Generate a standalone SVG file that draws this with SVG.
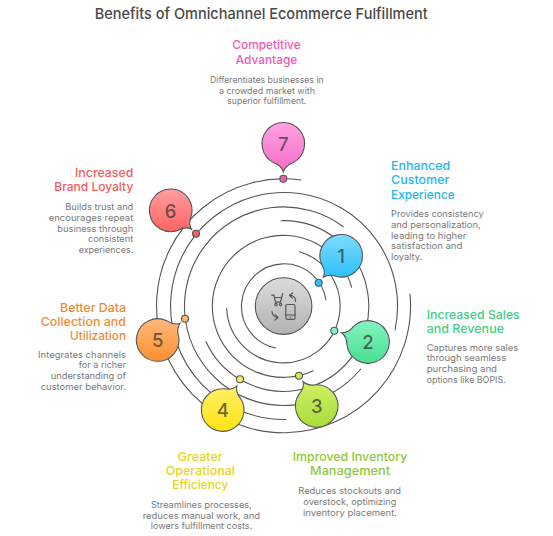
<svg xmlns="http://www.w3.org/2000/svg" width="553" height="536" viewBox="0 0 553 536">
<style>
text{font-family:"Inter","Noto Sans","Liberation Sans",sans-serif}
.t{font-size:15px;font-weight:500;fill:#4a4a4a}
.h{font-size:12.2px;font-weight:500}
.b{font-size:8.8px;font-weight:400;fill:#7a7a7a}
.n{font-size:18.5px;font-weight:500;fill:#333;fill-opacity:.72;text-anchor:middle}
.r{fill:none;stroke:#555;stroke-width:1.1;stroke-linecap:round}
.s{stroke:#555;stroke-width:1.1}
.i{fill:none;stroke:#555;stroke-width:1.2;stroke-linecap:round;stroke-linejoin:round}
</style>
<defs>
<linearGradient id="g0" x1="0" y1="0" x2="0" y2="1"><stop offset="0" stop-color="#dcdcdc"/><stop offset="1" stop-color="#b2b2b2"/></linearGradient>
<linearGradient id="g1" x1="0" y1="0" x2="0" y2="1"><stop offset="0" stop-color="#7fdcff"/><stop offset="1" stop-color="#2cc0fb"/></linearGradient>
<linearGradient id="g2" x1="0" y1="0" x2="0" y2="1"><stop offset="0" stop-color="#86f3c2"/><stop offset="1" stop-color="#46df90"/></linearGradient>
<linearGradient id="g3" x1="0" y1="0" x2="0" y2="1"><stop offset="0" stop-color="#d0f163"/><stop offset="1" stop-color="#a9dc3c"/></linearGradient>
<linearGradient id="g4" x1="0" y1="0" x2="0" y2="1"><stop offset="0" stop-color="#fff068"/><stop offset="1" stop-color="#ffe414"/></linearGradient>
<linearGradient id="g5" x1="0" y1="0" x2="0" y2="1"><stop offset="0" stop-color="#ffb97c"/><stop offset="1" stop-color="#fb9030"/></linearGradient>
<linearGradient id="g6" x1="0" y1="0" x2="0" y2="1"><stop offset="0" stop-color="#ff9e9e"/><stop offset="1" stop-color="#ff6464"/></linearGradient>
<linearGradient id="g7" x1="0" y1="0" x2="0" y2="1"><stop offset="0" stop-color="#ffa3e2"/><stop offset="1" stop-color="#f56cc8"/></linearGradient>
</defs>
<text class="t" x="94.7" y="18.5" textLength="333" lengthAdjust="spacingAndGlyphs">Benefits of Omnichannel Ecommerce Fulfillment</text>
<g id="connectors">
<path class="r" d="M326,300A42.5,42.5 0 1 0 275.7,348"/>
<path class="r" d="M299.3,251.7A56.7,56.7 0 1 1 226.7,308.3"/>
<path class="r" d="M351.7,287.3A71,71 0 1 0 313.3,370.7"/>
<path class="r" d="M281,220.7A85.3,85.3 0 1 1 206,341.7"/>
<path class="r" d="M343.3,226.7A99.3,99.3 0 1 0 360.7,369"/>
<path class="r" d="M395,330A113.5,113.5 0 1 0 286,419.5"/>
<path class="r" d="M301,180A127,127 0 1 0 410,294"/>
</g>
<g id="hub">
<circle cx="283.6" cy="306.1" r="28.3" fill="url(#g0)" class="s"/>
<path class="i" d="M271.7,295.2h2.2l1.6,7h5l2.2-8.6M274.3,297.5h7.6"/>
<circle class="i" cx="276" cy="304.6" r="1.2"/><circle class="i" cx="280.6" cy="304.6" r="1.2"/>
<rect class="i" x="285.8" y="304.5" width="9.2" height="14.8" rx="1.5"/>
<path class="i" d="M285.8,315h9.2"/><circle cx="290.4" cy="317.2" r=".7" fill="#555"/>
<path class="i" d="M295.6,301.5c0-3.5-2-6-6-6.500M292.500,293l-3,2.500l2.800,2.600"/>
<path class="i" d="M272,311.500c.2,3.300,2.300,5.500,5.800,6M275,320l3-2.500l-2.800-2.600"/>
</g>
<g id="node1">
<circle class="s" cx="318.7" cy="282.7" r="3.5" fill="#2cc0fb"/>
<path class="s" fill="url(#g1)" d="M321.64,264.2A21.3,21.3 0 1 1 336.5,276.56Q328.99,273.59 323.3,277.3Q325.92,271.03 321.64,264.2Z"/>
<text class="n" x="341.2" y="263">1</text>
<text class="h" fill="#29b6e8" x="391" y="170" textLength="59.300" lengthAdjust="spacingAndGlyphs">Enhanced</text>
<text class="h" fill="#29b6e8" x="391" y="184.300" textLength="58.300" lengthAdjust="spacingAndGlyphs">Customer</text>
<text class="h" fill="#29b6e8" x="391" y="198.700" textLength="63.700" lengthAdjust="spacingAndGlyphs">Experience</text>
<text class="b" x="391" y="217.300" textLength="92.700" lengthAdjust="spacingAndGlyphs">Provides consistency</text>
<text class="b" x="391" y="228" textLength="89.700" lengthAdjust="spacingAndGlyphs">and personalization,</text>
<text class="b" x="391" y="238.600" textLength="75.300" lengthAdjust="spacingAndGlyphs">leading to higher</text>
<text class="b" x="391" y="249.300" textLength="71.300" lengthAdjust="spacingAndGlyphs">satisfaction and</text>
<text class="b" x="391" y="260" textLength="31.300" lengthAdjust="spacingAndGlyphs">loyalty.</text>
</g>
<g id="node2">
<circle class="s" cx="334.3" cy="330.7" r="3.5" fill="#86f3c2"/>
<path class="s" fill="url(#g2)" d="M353.32,326.56A21.3,21.3 0 1 1 346.88,344.8Q347.06,336.73 341.6,332.7Q348.4,332.95 353.32,326.56Z"/>
<text class="n" x="368" y="349">2</text>
<text class="h" fill="#3ecf85" x="426.700" y="318.700" textLength="93" lengthAdjust="spacingAndGlyphs">Increased Sales</text>
<text class="h" fill="#3ecf85" x="426.700" y="333" textLength="77.300" lengthAdjust="spacingAndGlyphs">and Revenue</text>
<text class="b" x="426.700" y="350.700" textLength="91.600" lengthAdjust="spacingAndGlyphs">Captures more sales</text>
<text class="b" x="426.700" y="361.300" textLength="79.600" lengthAdjust="spacingAndGlyphs">through seamless</text>
<text class="b" x="426.700" y="372" textLength="70.300" lengthAdjust="spacingAndGlyphs">purchasing and</text>
<text class="b" x="426.700" y="382.700" textLength="79" lengthAdjust="spacingAndGlyphs">options like BOPIS.</text>
</g>
<g id="node3">
<circle class="s" cx="299" cy="375.7" r="3.5" fill="#c8ee5c"/>
<path class="s" fill="url(#g3)" d="M315.97,384.71A21.3,21.3 0 1 1 299.05,394.07Q304.54,388.16 303.15,381.5Q308.04,386.22 315.97,384.71Z"/>
<text class="n" x="316.700" y="413">3</text>
<text class="h" fill="#8fc93a" x="292.700" y="460.700" textLength="114.600" lengthAdjust="spacingAndGlyphs">Improved Inventory</text>
<text class="h" fill="#8fc93a" x="310" y="475" textLength="80" lengthAdjust="spacingAndGlyphs">Management</text>
<text class="b" x="298.300" y="494.300" textLength="102.700" lengthAdjust="spacingAndGlyphs">Reduces stockouts and</text>
<text class="b" x="303.300" y="505" textLength="93" lengthAdjust="spacingAndGlyphs">overstock, optimizing</text>
<text class="b" x="303" y="515.600" textLength="94" lengthAdjust="spacingAndGlyphs">inventory placement.</text>
</g>
<g id="node4">
<circle class="s" cx="240" cy="379.3" r="3.5" fill="#fdec62"/>
<path class="s" fill="url(#g4)" d="M240.62,398.49A21.3,21.3 0 1 1 223.92,388.75Q231.81,390.44 236.81,385.84Q235.27,392.46 240.62,398.49Z"/>
<text class="n" x="222.700" y="417">4</text>
<text class="h" fill="#e8d420" x="177.700" y="460.700" textLength="45" lengthAdjust="spacingAndGlyphs">Greater</text>
<text class="h" fill="#e8d420" x="165.700" y="475" textLength="69.300" lengthAdjust="spacingAndGlyphs">Operational</text>
<text class="h" fill="#e8d420" x="172.300" y="489.300" textLength="56" lengthAdjust="spacingAndGlyphs">Efficiency</text>
<text class="b" x="151" y="508" textLength="100.700" lengthAdjust="spacingAndGlyphs">Streamlines processes,</text>
<text class="b" x="142.700" y="518.700" textLength="117.300" lengthAdjust="spacingAndGlyphs">reduces manual work, and</text>
<text class="b" x="150.700" y="529.300" textLength="101.600" lengthAdjust="spacingAndGlyphs">lowers fulfillment costs.</text>
</g>
<g id="node5">
<circle class="s" cx="185" cy="318.7" r="3.5" fill="#fdb770"/>
<path class="s" fill="url(#g5)" d="M178.67,336.37A21.3,21.3 0 1 1 167.09,320.89Q173.7,325.52 180.1,323.23Q176.1,328.72 178.67,336.37Z"/>
<text class="n" x="157.700" y="346.800">5</text>
<text class="h" fill="#ee8c35" x="60" y="311.700" textLength="66" lengthAdjust="spacingAndGlyphs">Better Data</text>
<text class="h" fill="#ee8c35" x="40.700" y="326" textLength="85.300" lengthAdjust="spacingAndGlyphs">Collection and</text>
<text class="h" fill="#ee8c35" x="70" y="340.300" textLength="56" lengthAdjust="spacingAndGlyphs">Utilization</text>
<text class="b" x="38" y="357.700" textLength="88" lengthAdjust="spacingAndGlyphs">Integrates channels</text>
<text class="b" x="78.700" y="368.300" textLength="47.300" lengthAdjust="spacingAndGlyphs">for a richer</text>
<text class="b" x="50.700" y="379" textLength="75.300" lengthAdjust="spacingAndGlyphs">understanding of</text>
<text class="b" x="40.700" y="389.700" textLength="85.300" lengthAdjust="spacingAndGlyphs">customer behavior.</text>
</g>
<g id="node6">
<circle class="s" cx="196" cy="233.700" r="3.5" fill="#f25c5c"/>
<path class="s" fill="url(#g6)" d="M178.25,230.24A21.3,21.3 0 1 1 191.27,215.9Q187.98,223.29 191.45,229.14Q185.28,226.25 178.25,230.24Z"/>
<text class="n" x="170.700" y="217.500">6</text>
<text class="h" fill="#f25c5c" x="75" y="177" textLength="58.300" lengthAdjust="spacingAndGlyphs">Increased</text>
<text class="h" fill="#f25c5c" x="54.300" y="191.300" textLength="79" lengthAdjust="spacingAndGlyphs">Brand Loyalty</text>
<text class="b" x="65.300" y="210.300" textLength="68" lengthAdjust="spacingAndGlyphs">Builds trust and</text>
<text class="b" x="48.700" y="221" textLength="84.600" lengthAdjust="spacingAndGlyphs">encourages repeat</text>
<text class="b" x="57.300" y="231.600" textLength="76" lengthAdjust="spacingAndGlyphs">business through</text>
<text class="b" x="88" y="242.300" textLength="45.300" lengthAdjust="spacingAndGlyphs">consistent</text>
<text class="b" x="78.700" y="253" textLength="54.600" lengthAdjust="spacingAndGlyphs">experiences.</text>
</g>
<g id="node7">
<circle class="s" cx="283.300" cy="178.700" r="3.5" fill="#e85cb8"/>
<path class="s" fill="url(#g7)" d="M273.63,162.78A21.3,21.3 0 1 1 292.97,162.78Q285.3,165.3 283.3,171.8Q281.3,165.3 273.63,162.78Z"/>
<text class="n" x="283.300" y="151">7</text>
<text class="h" fill="#f05ab4" x="232.300" y="49.300" textLength="68.400" lengthAdjust="spacingAndGlyphs">Competitive</text>
<text class="h" fill="#f05ab4" x="235.700" y="63.700" textLength="61.600" lengthAdjust="spacingAndGlyphs">Advantage</text>
<text class="b" x="210" y="83" textLength="113.700" lengthAdjust="spacingAndGlyphs">Differentiates businesses in</text>
<text class="b" x="219" y="93.700" textLength="96" lengthAdjust="spacingAndGlyphs">a crowded market with</text>
<text class="b" x="227.300" y="104.300" textLength="79" lengthAdjust="spacingAndGlyphs">superior fulfillment.</text>
</g>
</svg>
